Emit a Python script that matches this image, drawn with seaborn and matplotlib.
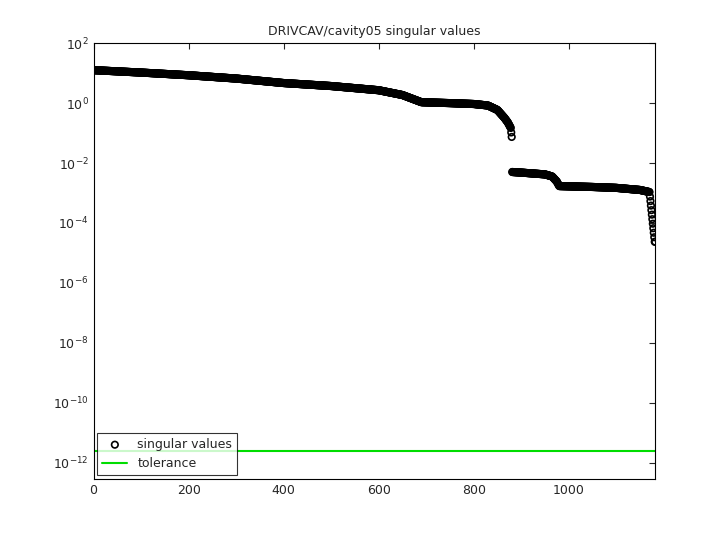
import numpy as np
import matplotlib
matplotlib.use("Agg")
import matplotlib.pyplot as plt
import seaborn as sns
from matplotlib.ticker import LogLocator, LogFormatterMathtext

# anchor readings of log10(singular value) against index
anchor_idx = [0, 100, 200, 300, 400, 500, 600, 650, 690, 750, 800, 830, 850, 865, 872, 878, 880,
              881, 900, 950, 965, 975, 980, 1050, 1100, 1150, 1170, 1181]
anchor_log = [1.10, 1.02, 0.93, 0.82, 0.67, 0.57, 0.43, 0.27, 0.03, 0.0, -0.03, -0.08, -0.23,
              -0.50, -0.65, -0.83, -1.13, -2.30, -2.32, -2.38, -2.45, -2.62, -2.77, -2.80,
              -2.83, -2.90, -2.97, -4.63]
n_values = 1182
tolerance = 2.5e-12

idx = np.arange(1, n_values + 1)
sv = 10 ** np.interp(idx, anchor_idx, anchor_log)

sns.set_style("white")
plt.rcParams['font.family'] = ['DejaVu Sans']
fig, ax = plt.subplots(figsize=(7.2, 5.4), dpi=100)
fig.subplots_adjust(left=0.13, right=0.91, top=0.92, bottom=0.113)

sns.scatterplot(x=idx, y=sv, ax=ax, marker='o', s=22, facecolor='none',
                edgecolor='black', linewidth=1.2, label='singular values')
sns.lineplot(x=[0, n_values], y=[tolerance, tolerance], ax=ax, color='#00dd00',
             linewidth=1.5, label='tolerance')

ax.set_yscale('log')
ax.set_xlim(0, n_values)
ax.set_ylim(10 ** -12.55, 1e2)
ax.yaxis.set_major_locator(LogLocator(base=10, subs=[1.0], numticks=20))
ax.set_yticks([10.0 ** k for k in range(-12, 3, 2)])
ax.yaxis.set_major_formatter(LogFormatterMathtext())
ax.yaxis.set_minor_locator(plt.NullLocator())
ax.set_xticks([0, 200, 400, 600, 800, 1000])
ax.tick_params(direction='in', labelsize=9, length=4, top=True, right=True)
for s in ax.spines.values():
    s.set_color('black')
    s.set_linewidth(0.8)
ax.set_title('DRIVCAV/cavity05 singular values', fontsize=9)
leg = ax.legend(loc='lower left', fontsize=9, frameon=True, fancybox=False,
                edgecolor='black', borderaxespad=0.3)
leg.get_frame().set_linewidth(0.8)

fig.savefig('out.png', dpi=100)
